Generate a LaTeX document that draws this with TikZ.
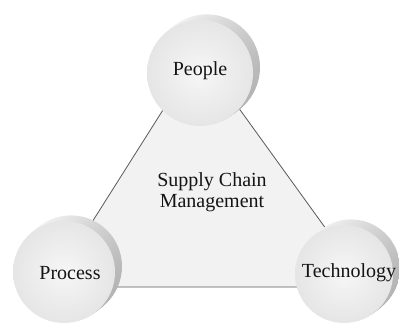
\documentclass[tikz,border=0pt]{standalone}
\usepackage{fontspec}
\setmainfont{Liberation Serif}
\usepackage{pgf,tikz}
\usetikzlibrary{arrows}

\tikzset{
  face/.style={circle,inner sep=0pt,inner color=gray!7,outer color=gray!20},
  side/.style={left color=gray!8,right color=gray!58,shading angle=60},
  tri/.style={fill=gray!10,draw=black!65,line width=0.8pt},
  lbl/.style={text=black!92,font=\fontsize{20}{23}\selectfont}
}

\begin{document}
\begin{tikzpicture}[line cap=round,line join=round,x=1pt,y=1pt]
\useasboundingbox (0,0) rectangle (399,327);
\fill[white] (0,0) rectangle (399,327);
% corners of the triangle
\coordinate (vproc) at (51,40);
\coordinate (vpeop) at (199,274);
\coordinate (vtech) at (368,40);
\filldraw[tri] (vproc) -- (vpeop) -- (vtech) -- cycle;
\node[lbl,align=center,font=\fontsize{20}{21}\selectfont] (scm) at (212,135) {Supply Chain\\Management};
% the three discs
\foreach \cx/\cy/\r in {200/254/53, 64/55/51, 344/53/49}
  \foreach \k in {7,6,...,1}
    \shade[side] (\cx+\k,\cy+0.8*\k) circle (\r);
\node[face,minimum size=106pt] (people) at (200,254) {};
\node[face,minimum size=102pt] (process) at (64,55) {};
\node[face,minimum size=98pt] (tech) at (344,53) {};
\node[lbl] (peoplelbl) at (200,256) {People};
\node[lbl] (processlbl) at (70,54) {Process};
\node[lbl] (techlbl) at (349,54) {Technology};
\end{tikzpicture}
\end{document}
